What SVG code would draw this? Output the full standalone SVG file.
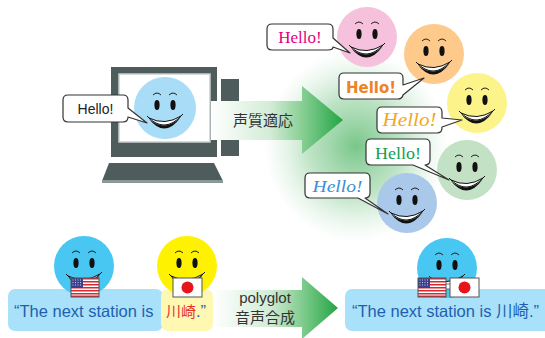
<svg xmlns="http://www.w3.org/2000/svg" xmlns:xlink="http://www.w3.org/1999/xlink" width="545" height="338" viewBox="0 0 545 338">
  <style>
    .bubble { fill: #fff; stroke: #333; stroke-width: 1.2; stroke-linejoin: round; }
    .dark { fill: #4f5c5c; }
    .jp { font-family: "Noto Sans CJK JP", "Noto Sans", sans-serif; }
    .sans { font-family: "Liberation Sans", Arial, sans-serif; }
    .serif { font-family: "Liberation Serif", "Times New Roman", serif; }
    .flagframe { fill: none; stroke: #555; stroke-width: 1; }
  </style>
  <defs>
    <!-- smiley features drawn around (0,0) for a face of radius 30 -->
    <g id="features">
      <path d="M-12,-13 Q-8,-17 -4,-13 M4,-13 Q8,-17 12,-13" fill="none" stroke="#222" stroke-width="1"/>
      <ellipse cx="-8" cy="-3" rx="2.6" ry="5" fill="#111"/>
      <ellipse cx="8" cy="-3" rx="2.6" ry="5" fill="#111"/>
      <path d="M-16,11 Q0,31 16,9 Q0,25 -16,11 Z" fill="#111"/>
      <path d="M-16,10 Q0,18 16,8 Q0,25 -16,10 Z" fill="#fff" stroke="#111" stroke-width="1"/>
      <path d="M-18,8 L-15,11 M18,6 L15,9" stroke="#111" stroke-width="1"/>
    </g>
    <linearGradient id="arrowGrad" x1="0" y1="0" x2="1" y2="0">
      <stop offset="0" stop-color="#ffffff"/>
      <stop offset="0.45" stop-color="#d3ecd7"/>
      <stop offset="0.72" stop-color="#7fcb8c"/>
      <stop offset="1" stop-color="#22a545"/>
    </linearGradient>
    <radialGradient id="glow" cx="0.5" cy="0.5" r="0.5">
      <stop offset="0" stop-color="#4cb463" stop-opacity="0.75"/>
      <stop offset="0.5" stop-color="#6cc07c" stop-opacity="0.45"/>
      <stop offset="1" stop-color="#a8dcb2" stop-opacity="0"/>
    </radialGradient>
    <g id="usflag">
      <rect x="0" y="0" width="28" height="19" fill="#fff"/>
      <g fill="#d8282f">
        <rect x="0" y="0" width="28" height="1.5"/>
        <rect x="0" y="3" width="28" height="1.5"/>
        <rect x="0" y="6" width="28" height="1.5"/>
        <rect x="0" y="9" width="28" height="1.5"/>
        <rect x="0" y="12" width="28" height="1.5"/>
        <rect x="0" y="15" width="28" height="1.5"/>
        <rect x="0" y="17.5" width="28" height="1.5"/>
      </g>
      <rect x="0" y="0" width="12" height="10" fill="#3c3f8f"/>
      <g fill="#c9cde8">
        <rect x="1.5" y="1.5" width="1" height="1"/><rect x="4" y="1.5" width="1" height="1"/><rect x="6.5" y="1.5" width="1" height="1"/><rect x="9" y="1.5" width="1" height="1"/>
        <rect x="1.5" y="4" width="1" height="1"/><rect x="4" y="4" width="1" height="1"/><rect x="6.5" y="4" width="1" height="1"/><rect x="9" y="4" width="1" height="1"/>
        <rect x="1.5" y="6.5" width="1" height="1"/><rect x="4" y="6.5" width="1" height="1"/><rect x="6.5" y="6.5" width="1" height="1"/><rect x="9" y="6.5" width="1" height="1"/>
      </g>
      <rect class="flagframe" x="0" y="0" width="28" height="19"/>
    </g>
    <g id="jpflag">
      <rect x="0" y="0" width="29" height="19" fill="#fff"/>
      <circle cx="14.5" cy="9.5" r="6" fill="#e8141c"/>
      <rect class="flagframe" x="0" y="0" width="29" height="19"/>
    </g>
  </defs>

  <!-- soft green halo behind the voices -->
  <ellipse cx="356" cy="146" rx="92" ry="96" fill="url(#glow)"/>

  <!-- computer -->
  <g id="computer">
    <rect class="dark" x="221" y="79" width="18" height="77"/>
    <rect class="dark" x="111" y="67" width="106" height="90"/>
    <rect x="119" y="74" width="91" height="68" fill="#fff" stroke="#c9cfcf" stroke-width="1.5"/>
    <path class="dark" d="M109,163 H214 L223,181 H102 Z"/>
    <rect x="102" y="180" width="121" height="3" fill="#8b9898"/>
  </g>

  <!-- speaker on the screen -->
  <g id="screen-face">
    <circle cx="165" cy="108" r="31" fill="#a9dcf6"/>
    <use xlink:href="#features" href="#features" transform="translate(165,108)"/>
  </g>
  <g id="screen-bubble">
    <path class="bubble" d="M68,95 H123 Q128,95 128,100 V108 L147,123 L128,117 Q128,122 123,122 H68 Q63,122 63,117 V100 Q63,95 68,95 Z"/>
    <text class="sans" x="95.5" y="114" font-size="14" text-anchor="middle" fill="#222">Hello!</text>
  </g>

  <!-- connectors -->
  <g id="connectors">
    <g id="arrow-adapt">
      <path d="M211,101 H302 V86 L343,120 L302,154 V140 H211 Z" fill="url(#arrowGrad)"/>
      <text class="jp" x="263" y="126" font-size="15" text-anchor="middle" fill="#333">声質適応</text>
    </g>
    <g id="arrow-polyglot">
      <path d="M213,290 H302 V277 L338,308 L302,339 V327 H213 Z" fill="url(#arrowGrad)"/>
      <text class="sans" x="265" y="303" font-size="15" text-anchor="middle" fill="#333">polyglot</text>
      <text class="jp" x="265" y="323" font-size="15" text-anchor="middle" fill="#333">音声合成</text>
    </g>
  </g>

  <!-- adapted voices -->
  <g id="voice-pink">
    <circle cx="367" cy="37" r="30" fill="#f6c1dc"/>
    <use xlink:href="#features" href="#features" transform="translate(367,37)"/>
    <path class="bubble" d="M272,24 H328 Q333,24 333,29 V38 L350,53 L333,47 Q333,50 328,50 H272 Q267,50 267,45 V29 Q267,24 272,24 Z"/>
    <text class="serif" x="300" y="43" font-size="17" text-anchor="middle" fill="#e4007f">Hello!</text>
  </g>
  <g id="voice-orange">
    <circle cx="434" cy="54" r="30" fill="#fdca8c"/>
    <use xlink:href="#features" href="#features" transform="translate(434,54)"/>
    <path class="bubble" d="M344,73 H398 Q403,73 403,78 V85 L424,78 L403,95 Q402,99 398,99 H344 Q339,99 339,94 V78 Q339,73 344,73 Z"/>
    <text x="371" y="93" font-size="16" font-weight="bold" text-anchor="middle" fill="#f08221" font-family="'DejaVu Sans Condensed', 'DejaVu Sans', sans-serif" textLength="50" lengthAdjust="spacingAndGlyphs">Hello!</text>
  </g>
  <g id="voice-yellow">
    <circle cx="477" cy="103" r="30" fill="#fdf38b"/>
    <use xlink:href="#features" href="#features" transform="translate(477,103)"/>
    <path class="bubble" d="M382,107 H437 Q442,107 442,112 V118 L462,120 L442,127 V128 Q442,133 437,133 H382 Q377,133 377,128 V112 Q377,107 382,107 Z"/>
    <text class="serif" x="409.5" y="126" font-size="18" font-style="italic" text-anchor="middle" fill="#f5a71c" textLength="54" lengthAdjust="spacingAndGlyphs">Hello!</text>
  </g>
  <g id="voice-green">
    <circle cx="467" cy="170" r="30" fill="#c3e1c4"/>
    <use xlink:href="#features" href="#features" transform="translate(467,170)"/>
    <path class="bubble" d="M371,139 H425 Q430,139 430,144 V160 Q430,165 425,165 L449,180 L413,165 H371 Q366,165 366,160 V144 Q366,139 371,139 Z"/>
    <text class="serif" x="398" y="159" font-size="17" text-anchor="middle" fill="#12a14e" textLength="46" lengthAdjust="spacingAndGlyphs">Hello!</text>
  </g>
  <g id="voice-blue">
    <circle cx="407" cy="203" r="30" fill="#a9c8ea"/>
    <use xlink:href="#features" href="#features" transform="translate(407,203)"/>
    <path class="bubble" d="M310,173 H365 Q370,173 370,178 V193 Q370,198 365,198 L388,214 L358,198 H310 Q305,198 305,193 V178 Q305,173 310,173 Z"/>
    <text class="serif" x="337.5" y="192" font-size="17" font-style="italic" text-anchor="middle" fill="#3b8fd6" textLength="50" lengthAdjust="spacingAndGlyphs">Hello!</text>
  </g>

  <!-- mixed-language announcement -->
  <g id="sentence-mixed">
    <rect x="8" y="289" width="155" height="42" rx="7" fill="#a9e1fa"/>
    <rect x="161" y="289" width="52" height="42" rx="7" fill="#fff8b3"/>
    <text class="sans" x="14" y="317" font-size="16.5" fill="#1f5fae">“The next station is</text>
    <text class="jp" x="166" y="317" font-size="15" fill="#e8332a">川崎</text>
    <text class="sans" x="196" y="317" font-size="16.5" fill="#1f5fae">.”</text>
  </g>
  <g id="speaker-en">
    <circle cx="84" cy="266" r="30" fill="#47c7f2"/>
    <use xlink:href="#features" href="#features" transform="translate(84,266)"/>
    <use xlink:href="#usflag" href="#usflag" transform="translate(71,278)"/>
  </g>
  <g id="speaker-ja">
    <circle cx="187" cy="266" r="30" fill="#fff200"/>
    <use xlink:href="#features" href="#features" transform="translate(187,266)"/>
    <use xlink:href="#jpflag" href="#jpflag" transform="translate(173,278)"/>
  </g>

  <!-- single polyglot speaker -->
  <g id="sentence-polyglot">
    <rect x="345" y="289" width="210" height="42" rx="7" fill="#a9e1fa"/>
    <text x="352" y="317" font-size="16.5" fill="#1f5fae" font-family="'Liberation Sans', 'Noto Sans CJK JP', sans-serif">“The next station is 川崎.”</text>
  </g>
  <g id="speaker-polyglot">
    <circle cx="447" cy="268" r="30" fill="#47c7f2"/>
    <use xlink:href="#features" href="#features" transform="translate(447,268)"/>
    <rect x="445" y="284" width="6" height="5" fill="#fff" stroke="#555" stroke-width="0.8"/>
    <use xlink:href="#usflag" href="#usflag" transform="translate(418,278)"/>
    <use xlink:href="#jpflag" href="#jpflag" transform="translate(450,278)"/>
  </g>
</svg>
